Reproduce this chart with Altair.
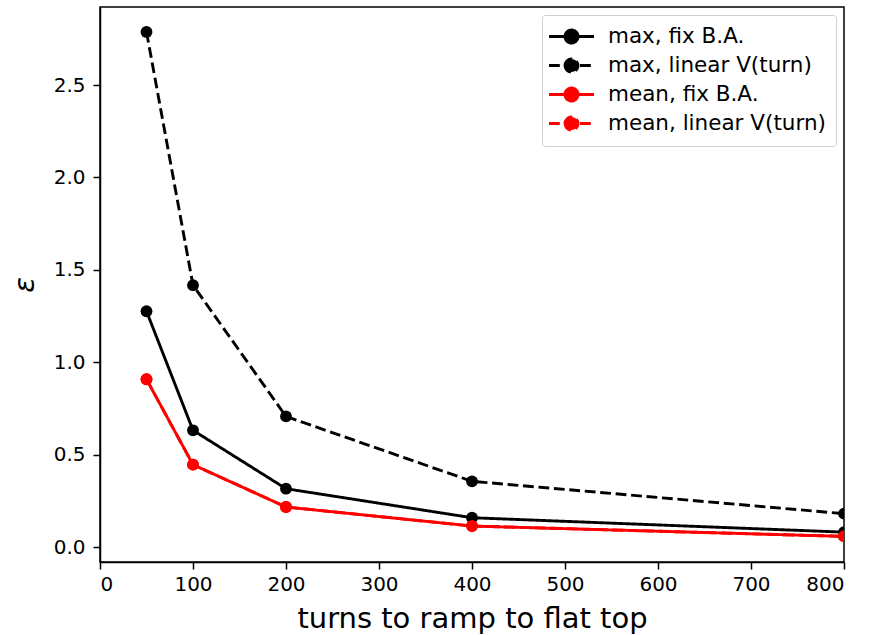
import altair as alt
import pandas as pd

# ---- data ----
turns = [50, 100, 200, 400, 800]
max_fix = [1.276, 0.632, 0.316, 0.159, 0.081]
max_linear = [2.787, 1.417, 0.707, 0.356, 0.181]
mean_fix = [0.908, 0.446, 0.217, 0.114, 0.058]
mean_linear = [0.908, 0.446, 0.217, 0.114, 0.058]

series_names = ["max, fix B.A.", "max, linear V(turn)", "mean, fix B.A.", "mean, linear V(turn)"]
series_values = [max_fix, max_linear, mean_fix, mean_linear]

x_ticks = [0, 100, 200, 300, 400, 500, 600, 700, 800]
y_ticks = [0.0, 0.5, 1.0, 1.5, 2.0, 2.5]

# ---- styles ----
series_colors = ["#000000", "#000000", "#ff0000", "#ff0000"]
series_dashes = [[1, 0], [10.8, 4.7], [1, 0], [10.8, 4.7]]

rows = []
for k, (name, vals) in enumerate(zip(series_names, series_values)):
    for t, v in zip(turns, vals):
        rows.append({"series": name, "turns": t, "eps": v, "k": k})
df = pd.DataFrame(rows)

FONT = "DejaVu Sans"
legend_path = "M-2.25,0L2.25,0M-0.65,0A0.65,0.65,0,1,1,0.65,0A0.65,0.65,0,1,1,-0.65,0Z"

x_enc = alt.X("turns:Q",
              scale=alt.Scale(domain=[0, 800], nice=False, zero=False),
              axis=alt.Axis(values=x_ticks, title="turns to ramp to flat top",
                            titleFontSize=29, titlePadding=10, labelPadding=5))
y_enc = alt.Y("eps:Q",
              scale=alt.Scale(domain=[-0.0805, 2.922], nice=False, zero=False),
              axis=alt.Axis(values=y_ticks, format=".1f", title="ε",
                            titleFontSize=29, titleFontStyle="italic",
                            titlePadding=14, labelPadding=8))
color_enc = alt.Color("series:N",
                      scale=alt.Scale(domain=series_names, range=series_colors),
                      legend=alt.Legend(orient="top-right", title=None,
                                        symbolType=legend_path, symbolSize=400,
                                        symbolStrokeWidth=2.9,
                                        labelFontSize=21.5, labelFont=FONT,
                                        labelColor="#000000", labelLimit=400,
                                        strokeColor="#d0d0d0", fillColor="white",
                                        cornerRadius=3, padding=10, offset=8,
                                        rowPadding=4, symbolOffset=8,
                                        labelOffset=25))
dash_enc = alt.StrokeDash("series:N",
                          scale=alt.Scale(domain=series_names, range=series_dashes),
                          legend=None)

lines = alt.Chart(df).mark_line(strokeWidth=2.9, clip=True).encode(
    x=x_enc, y=y_enc, color=color_enc, strokeDash=dash_enc,
    order=alt.Order("turns:Q"))

points = alt.Chart(df).mark_point(filled=True, size=140, opacity=1, clip=True).encode(
    x=x_enc, y=y_enc, color=alt.Color("series:N",
                                      scale=alt.Scale(domain=series_names, range=series_colors),
                                      legend=None))

chart = alt.layer(lines, points).properties(
    width=744, height=555,
    autosize=alt.AutoSizeParams(type="none"),
    padding={"left": 100, "top": 7, "right": 26, "bottom": 73},
).configure_view(
    stroke="#000000", strokeWidth=1.5
).configure_axis(
    grid=False, domainColor="#000000", domainWidth=1.5,
    tickColor="#000000", tickSize=7, tickWidth=1.5,
    labelFont=FONT, labelFontSize=20, labelColor="#000000",
    titleFont=FONT, titleFontWeight="normal", titleColor="#000000",
)

chart.save("out.html", embed_options={"renderer": "svg", "actions": False})
